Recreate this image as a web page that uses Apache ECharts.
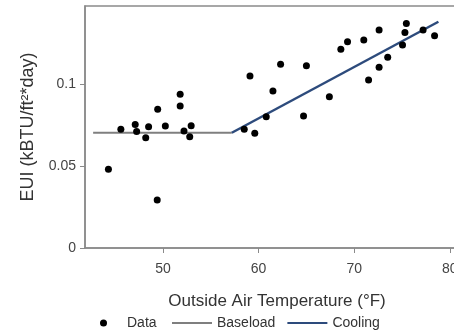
<!DOCTYPE html>
<html>
<head>
<meta charset="utf-8">
<script src="https://cdn.jsdelivr.net/npm/echarts@6/dist/echarts.min.js"></script>
<style>
  html, body { margin: 0; padding: 0; background: #fff; }
  #main { width: 454px; height: 336px; }
</style>
</head>
<body>
<div id="main"></div>
<script>
// outside air temperature (F) and EUI for each observation
var temps = [44.3, 45.6, 47.1, 47.25, 48.2, 48.5, 49.45, 49.4, 50.25, 51.8, 51.8, 52.2, 52.95, 52.8,
    58.5, 59.6, 59.1, 60.8, 61.5, 62.3, 64.7, 65.0, 67.4, 68.6, 69.3, 71.0, 71.5, 72.6, 72.6,
    73.5, 75.05, 75.3, 75.45, 77.2, 78.4];
var eui = [0.048, 0.0724, 0.0754, 0.071, 0.0673, 0.074, 0.0846, 0.0293, 0.0744, 0.0937, 0.0866, 0.0713, 0.0746, 0.0679,
    0.0724, 0.070, 0.1049, 0.0801, 0.0957, 0.112, 0.0805, 0.1112, 0.0923, 0.1212, 0.1258, 0.1268, 0.1024, 0.1329, 0.1102,
    0.1163, 0.1238, 0.1315, 0.137, 0.1329, 0.1295];

// fitted change-point model
var baseload = [[42.7, 0.0703], [57.2, 0.0703]];
var cooling = [[57.2, 0.0703], [78.8, 0.138]];

var xTicks = [50, 60, 70, 80];
var yTicks = [0, 0.05, 0.1];

var points = temps.map(function (t, i) { return [t, eui[i]]; });

var font = 'Liberation Sans, Arial, sans-serif';
var chart = echarts.init(document.getElementById('main'));
chart.setOption({
    animation: false,
    textStyle: { fontFamily: font },
    grid: {
        left: 85, top: 6, bottom: 88, width: 384,
        outerBoundsMode: 'none',
        show: true, borderColor: '#8a8a8a', borderWidth: 1.5
    },
    legend: [{
        data: [{ name: 'Data', icon: 'circle' }],
        bottom: 6, left: 100, padding: 0,
        itemWidth: 7, itemHeight: 7,
        textStyle: { fontSize: 14, color: '#333', fontFamily: font, padding: [0, 0, 0, 15] }
    }, {
        data: [{ name: 'Baseload', icon: 'rect' }, { name: 'Cooling', icon: 'rect' }],
        bottom: 6, left: 172, padding: 0,
        itemWidth: 40, itemHeight: 2, itemGap: 12,
        textStyle: { fontSize: 14, color: '#333', fontFamily: font }
    }],
    xAxis: {
        type: 'value',
        min: 41.85, max: 82,
        name: 'Outside Air Temperature (°F)',
        nameLocation: 'middle',
        nameGap: 45,
        nameTextStyle: { fontSize: 17, color: '#333' },
        splitLine: { show: false },
        axisLine: { lineStyle: { color: '#8a8a8a', width: 1.5 } },
        axisTick: { show: true, length: 5, customValues: xTicks, lineStyle: { color: '#8a8a8a' } },
        axisLabel: { customValues: xTicks, fontSize: 14, color: '#444', margin: 14 }
    },
    yAxis: {
        type: 'value',
        min: 0, max: 0.1476,
        name: 'EUI (kBTU/ft²*day)',
        nameLocation: 'middle',
        nameGap: 48,
        nameTextStyle: { fontSize: 18, color: '#333' },
        splitLine: { show: false },
        axisLine: { show: true, lineStyle: { color: '#8a8a8a', width: 1.5 } },
        axisTick: { show: true, length: 5, customValues: yTicks, lineStyle: { color: '#8a8a8a' } },
        axisLabel: {
            customValues: yTicks, fontSize: 14, color: '#444', margin: 9,
            formatter: function (v) { return String(+v.toFixed(2)); }
        }
    },
    series: [{
        name: 'Baseload',
        type: 'line',
        data: baseload,
        symbol: 'none',
        color: '#7f7f7f',
        lineStyle: { width: 2, color: '#7f7f7f' },
        z: 2
    }, {
        name: 'Cooling',
        type: 'line',
        data: cooling,
        symbol: 'none',
        color: '#2d4b7c',
        lineStyle: { width: 2.5, color: '#2d4b7c' },
        z: 2
    }, {
        name: 'Data',
        type: 'scatter',
        data: points,
        symbolSize: 7,
        itemStyle: { color: '#000', opacity: 1 },
        z: 3
    }]
});
</script>
</body>
</html>
